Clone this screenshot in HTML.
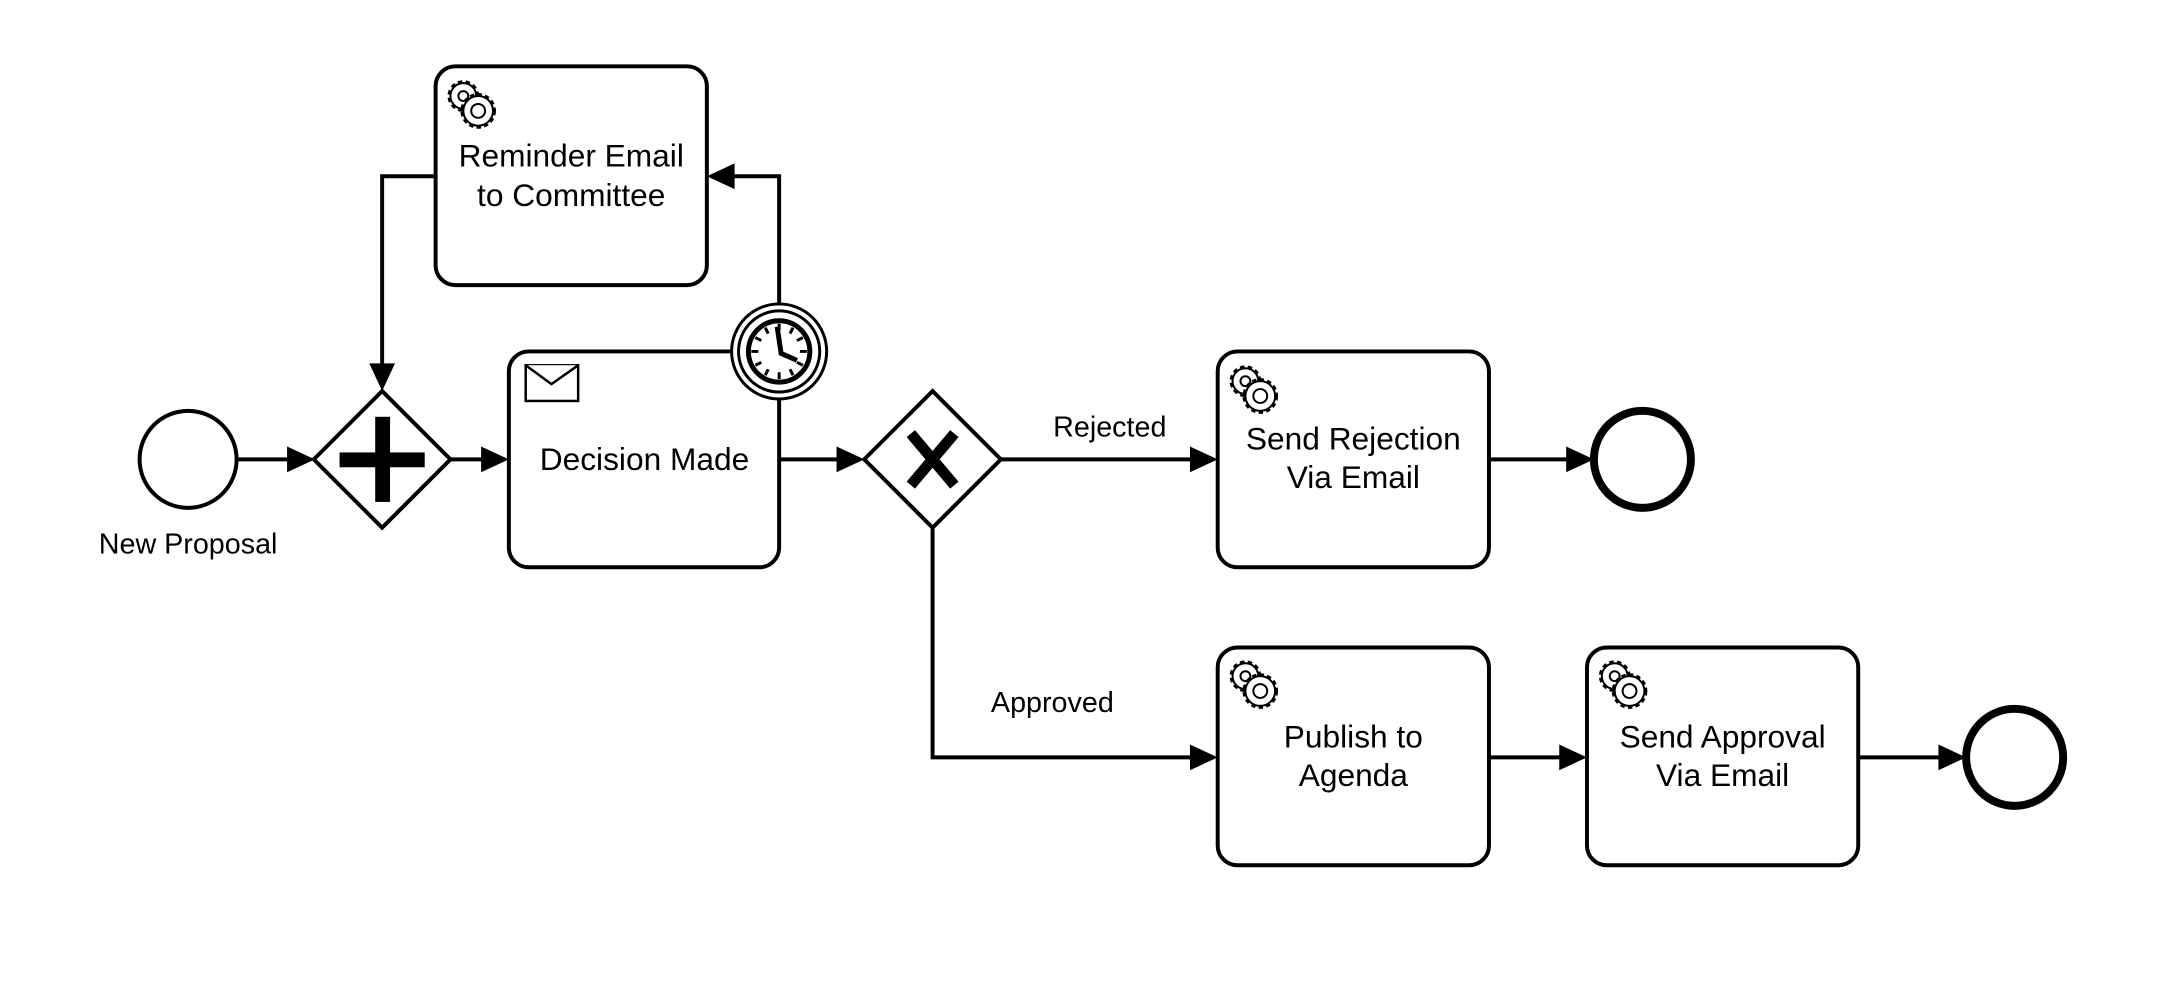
<!DOCTYPE html>
<html><head><meta charset="utf-8"><style>html,body{margin:0;padding:0;background:#fff}svg{display:block}text{font-family:"Liberation Sans",sans-serif;fill:#000}</style></head>
<body>
<svg width="2170" height="994" viewBox="0 0 2170 994" xmlns="http://www.w3.org/2000/svg">
<defs>
<g id="gear">
<g fill="#fff" stroke="#000" stroke-width="2">
<circle cx="19" cy="19" r="13" stroke-dasharray="4 3" stroke-width="6"/>
<circle cx="19" cy="19" r="13"/>
<circle cx="19" cy="19" r="5"/>
<circle cx="34" cy="34" r="15" stroke-dasharray="4 3" stroke-width="6"/>
<circle cx="34" cy="34" r="15"/>
<circle cx="34" cy="34" r="7"/>
</g>
</g>
</defs>
<g transform="scale(0.99)">
<g fill="none" stroke="#000" stroke-width="4">
<path d="M239 464 H300"/>
<path d="M455 464 H497"/>
<path d="M787 464 H855"/>
<path d="M1011 464 H1212"/>
<path d="M1504 464 H1590"/>
<path d="M942 533 V765 H1212"/>
<path d="M1504 765 H1585"/>
<path d="M1877 765 H1966"/>
<path d="M787 307 V178 H734"/>
<path d="M440 178 H386 V375"/>
<circle cx="190" cy="464" r="49" stroke-width="4"/>
<path d="M386 395 L455 464 L386 533 L317 464 Z"/>
<path d="M942 395 L1011 464 L942 533 L873 464 Z"/>
<rect x="440" y="67" width="274" height="221" rx="20"/>
<rect x="514" y="355" width="273" height="218" rx="20"/>
<rect x="1230" y="355" width="274" height="218" rx="20"/>
<rect x="1230" y="654" width="274" height="220" rx="20"/>
<rect x="1603" y="654" width="274" height="220" rx="20"/>
<circle cx="1659" cy="464" r="49" stroke-width="8"/>
<circle cx="2035" cy="765" r="49" stroke-width="8"/>
</g>
<g fill="#000">
<path d="M318 464 l-28 -13 v26 z"/>
<path d="M514 464 l-28 -13 v26 z"/>
<path d="M873 464 l-28 -13 v26 z"/>
<path d="M1230 464 l-28 -13 v26 z"/>
<path d="M1610 464 l-28 -13 v26 z"/>
<path d="M1230 765 l-28 -13 v26 z"/>
<path d="M1603 765 l-28 -13 v26 z"/>
<path d="M1986 765 l-28 -13 v26 z"/>
<path d="M714 178 l28 -13 v26 z"/>
<path d="M386 395 l-13 -28 h26 z"/>
<rect x="343" y="457" width="86" height="15"/>
<rect x="379" y="421" width="15" height="86"/>
</g>
<path d="M920 438 L964 490 M964 438 L920 490" stroke="#000" stroke-width="11"/>
<g fill="#fff" stroke="#000" stroke-width="2.5">
<rect x="531" y="369" width="53" height="36"/>
<path d="M531 369 L557 388 L584 369"/>
</g>
<g stroke="#000" fill="#fff">
<circle cx="787" cy="355" r="48" stroke-width="3"/>
<circle cx="787" cy="355" r="41" stroke-width="3"/>
<circle cx="787" cy="355" r="31" stroke-width="5"/>
<g stroke-width="3">
<path d="M787 327 v7 M787 383 v-7 M759 355 h7 M815 355 h-7 M801 331 l-3 6 M773 331 l3 6 M801 379 l-3 -6 M773 379 l3 -6 M811 341 l-6 3 M763 341 l6 3 M811 369 l-6 -3 M763 369 l6 -3"/>
<path d="M785 330 L789 357 L805 364" stroke-width="5" fill="none"/>
</g>
</g>
<use href="#gear" x="449" y="78"/>
<use href="#gear" x="1239" y="366"/>
<use href="#gear" x="1239" y="664"/>
<use href="#gear" x="1612" y="664"/>
<g font-size="32" text-anchor="middle">
<text x="577" y="168">Reminder Email</text>
<text x="577" y="208">to Committee</text>
<text x="651" y="475">Decision Made</text>
<text x="1367" y="454">Send Rejection</text>
<text x="1367" y="493">Via Email</text>
<text x="1367" y="755">Publish to</text>
<text x="1367" y="794">Agenda</text>
<text x="1740" y="755">Send Approval</text>
<text x="1740" y="794">Via Email</text>
</g>
<g font-size="29" text-anchor="middle">
<text x="190" y="559">New Proposal</text>
<text x="1121" y="441">Rejected</text>
<text x="1063" y="719">Approved</text>
</g>
</g>
</svg>
</body></html>
